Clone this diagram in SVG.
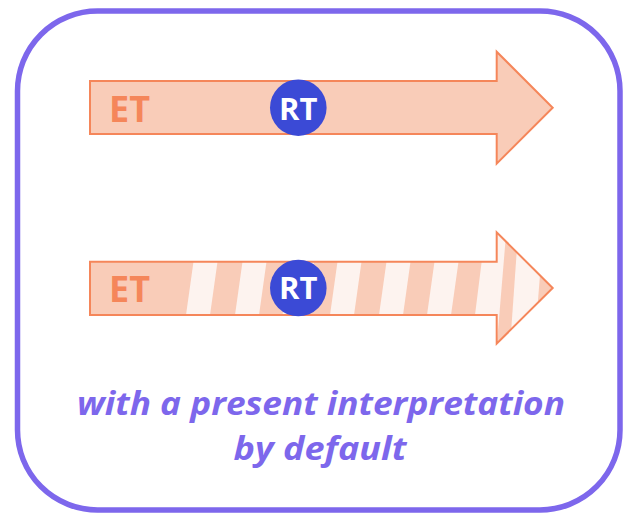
<svg xmlns="http://www.w3.org/2000/svg" width="623" height="513" viewBox="0 0 623 513">
  <style>
    .frame { fill: #ffffff; stroke: #7d67ec; stroke-width: 5.5; }
    .arrow-fill { fill: #f9ccb8; }
    .arrow-line { fill: none; stroke: #f5865a; stroke-width: 2; stroke-linejoin: miter; }
    .stripe { fill: #fdf3ef; }
    .et { font-family: "Open Sans", "DejaVu Sans", sans-serif; font-weight: 700; font-size: 36px; fill: #f5865a; }
    .rt-dot { fill: #3b4ad6; }
    .rt { font-family: "Open Sans", "DejaVu Sans", sans-serif; font-weight: 700; font-size: 31px; fill: #ffffff; text-anchor: middle; }
    .caption { font-family: "Open Sans", "DejaVu Sans", sans-serif; font-weight: 700; font-style: italic; font-size: 33px; fill: #7d67ec; text-anchor: middle; }
  </style>
  <defs>
    <clipPath id="arrow2-clip">
      <polygon points="90,261.7 496.7,261.7 496.7,232.3 552.7,288 496.7,343.7 496.7,315 90,315"/>
    </clipPath>
  </defs>

  <rect class="frame" x="17.5" y="11" width="602.5" height="499" rx="80" ry="80"/>

  <!-- plain arrow -->
  <g id="arrow-plain">
    <polygon class="arrow-fill" points="90,81 496.7,81 496.7,51.7 552.7,107.7 496.7,163.7 496.7,134 90,134"/>
    <polygon class="arrow-line" points="90,81 496.7,81 496.7,51.7 552.7,107.7 496.7,163.7 496.7,134 90,134"/>
    <text class="et" x="109" y="121.7">ET</text>
  </g>

  <!-- striped arrow -->
  <g id="arrow-striped">
    <polygon class="arrow-fill" points="90,261.7 496.7,261.7 496.7,232.3 552.7,288 496.7,343.7 496.7,315 90,315"/>
    <g clip-path="url(#arrow2-clip)">
      <polygon class="stripe" points="193.5,261.7 217.5,261.7 210,315 186,315"/>
      <polygon class="stripe" points="242.5,261.7 266.5,261.7 259,315 235,315"/>
      <polygon class="stripe" points="290,261.7 314,261.7 306.5,315 282.5,315"/>
      <polygon class="stripe" points="337.5,261.7 361.5,261.7 354,315 330,315"/>
      <polygon class="stripe" points="386.5,261.7 410.5,261.7 403,315 379,315"/>
      <polygon class="stripe" points="434.5,261.7 458.5,261.7 451,315 427,315"/>
      <polygon class="stripe" points="486.3,225 506.8,225 496.4,350 470.6,350"/>
      <polygon class="stripe" points="518.6,225 543.9,225 534.1,350 509.8,350"/>
    </g>
    <polygon class="arrow-line" points="90,261.7 496.7,261.7 496.7,232.3 552.7,288 496.7,343.7 496.7,315 90,315"/>
    <text class="et" x="109" y="302.3">ET</text>
  </g>

  <g id="rt-top">
    <circle class="rt-dot" cx="298.3" cy="107.7" r="28.3"/>
    <text class="rt" x="298.3" y="119.5">RT</text>
  </g>

  <g id="rt-bottom">
    <circle class="rt-dot" cx="298.3" cy="288" r="28.3"/>
    <text class="rt" x="298.3" y="299.3">RT</text>
  </g>

  <g id="caption">
    <text class="caption" x="321" y="415" textLength="488" lengthAdjust="spacingAndGlyphs">with a present interpretation</text>
    <text class="caption" x="320" y="460" textLength="173" lengthAdjust="spacingAndGlyphs">by default</text>
  </g>
</svg>
